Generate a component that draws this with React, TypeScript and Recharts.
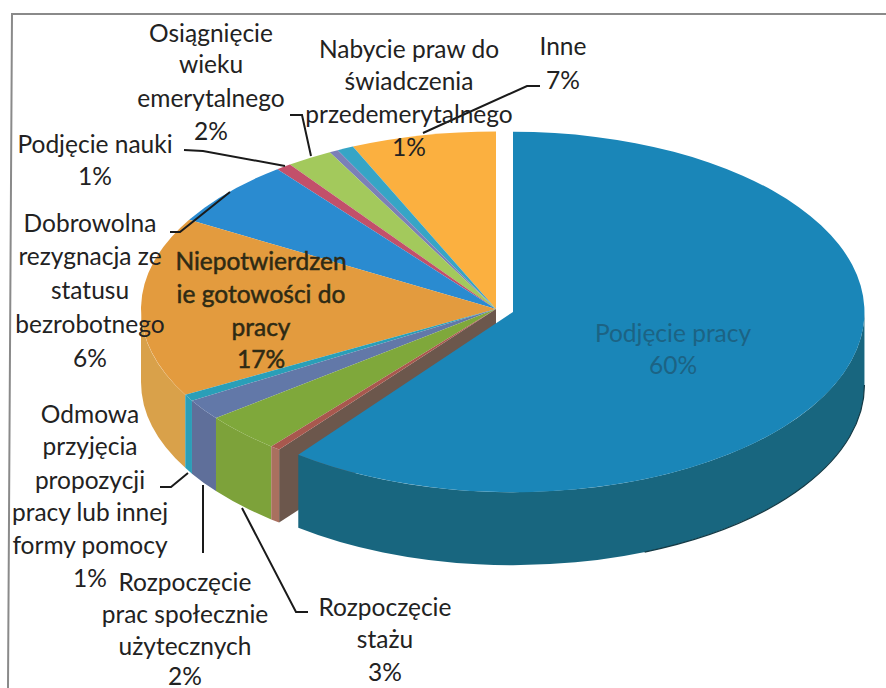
import React from "react";
import { PieChart, Pie } from "recharts";

// Listed counter-clockwise from 12 o'clock, so the pulled-out slice paints last.
const categories = [
  "Inne",
  "Nabycie praw do świadczenia przedemerytalnego",
  "(bez etykiety 1)",
  "Osiągnięcie wieku emerytalnego",
  "Podjęcie nauki",
  "Dobrowolna rezygnacja ze statusu bezrobotnego",
  "Niepotwierdzenie gotowości do pracy",
  "Odmowa przyjęcia propozycji pracy lub innej formy pomocy",
  "Rozpoczęcie prac społecznie użytecznych",
  "Rozpoczęcie stażu",
  "(bez etykiety 2)",
  "Podjęcie pracy",
];
const values = [6.6, 0.75, 0.4, 2.1, 0.7, 6.05, 16.4, 0.6, 1.9, 3.55, 0.45, 60.4];
const topColors = ["#fbb040", "#36a5c6", "#7b80b8", "#a3c95c", "#c2506a", "#2a8bd0", "#e39b3e", "#2a9fb8", "#6278a8", "#7fa83b", "#a8584e", "#1a86b8"];
const wallColors = ["#fbb040", "#36a5c6", "#7b80b8", "#a3c95c", "#c2506a", "#2a8bd0", "#d9a14a", "#2a9fb8", "#5f6f9a", "#7da23a", "#a9705f", "#18667f"];

const labelTexts: string[][] = [
  ["Inne", "7%"],
  ["Nabycie praw do", "świadczenia", "przedemerytalnego", "1%"],
  [],
  ["Osiągnięcie", "wieku", "emerytalnego", "2%"],
  ["Podjęcie nauki", "1%"],
  ["Dobrowolna", "rezygnacja ze", "statusu", "bezrobotnego", "6%"],
  ["Niepotwierdzen", "ie gotowości do", "pracy", "17%"],
  ["Odmowa", "przyjęcia", "propozycji", "pracy lub innej", "formy pomocy", "1%"],
  ["Rozpoczęcie", "prac społecznie", "użytecznych", "2%"],
  ["Rozpoczęcie", "stażu", "3%"],
  [],
  ["Podjęcie pracy", "60%"],
];

const table = categories.map((name, i) => ({ name, value: values[i], fill: topColors[i], wall: wallColors[i] }));

// Layout, in page pixels: [centre x, y of each text line]
const labelLayout: [number, number[]][] = [
  [563, [45, 79]],
  [409, [48, 80, 113, 146]],
  [0, []],
  [211, [32, 63, 97, 130]],
  [95, [143, 175]],
  [90, [222, 255, 289, 323, 357]],
  [261, [260, 293, 326, 358]],
  [90, [413, 445, 479, 511, 544, 577]],
  [185, [581, 613, 645, 675]],
  [385, [606, 638, 671]],
  [0, []],
  [673, [332, 364]],
];
const leaders: string[] = [
  "540,86 527,86 423,133",
  "",
  "",
  "290,115 302,115 311,156",
  "184,150 203,151 285,166",
  "170,232 180,232 230,192",
  "",
  "160,487 171,487 188,473",
  "203,485 203,553",
  "242,508 296,612 308,612",
  "",
  "",
];
const labelInk = ["#222", "#222", "#222", "#222", "#222", "#222", "#2e2a14", "#222", "#222", "#222", "#222", "#1c6384"];

const TILT = 0.5;
const DEPTH = 73;
const MAIN = 11;
const BOLD_LABEL = 6;
const RAD = Math.PI / 180;

function SliceShape(props: any) {
  const { cx, cy, outerRadius, startAngle, endAngle, fill, payload, wall, name } = props;
  const i = categories.indexOf(name ?? payload?.name);
  const isMain = i === MAIN;
  const ox = isMain ? cx + 17 : cx;
  const oy = isMain ? cy + 3 : cy;
  const rx = isMain ? outerRadius * 0.99 : outerRadius;
  const ry = isMain ? outerRadius * TILT * 1.015 : outerRadius * TILT;
  const sa = Math.min(startAngle, endAngle);
  const ea = Math.max(startAngle, endAngle);
  const pt = (a: number, d = 0) => `${ox + rx * Math.cos(a * RAD)},${oy - ry * Math.sin(a * RAD) + d}`;
  const large = ea - sa > 180 ? 1 : 0;
  const top = `M${ox},${oy} L${pt(sa)} A${rx},${ry} 0 ${large} 0 ${pt(ea)} Z`;
  const lo = Math.max(sa, 180);
  const hi = Math.min(ea, 360);
  const wallFill = wall ?? payload?.wall;
  const arcLarge = hi - lo > 180 ? 1 : 0;
  const outer =
    hi > lo
      ? `M${pt(lo)} A${rx},${ry} 0 ${arcLarge} 0 ${pt(hi)} L${pt(hi, DEPTH)} A${rx},${ry} 0 ${arcLarge} 1 ${pt(lo, DEPTH)} Z`
      : null;
  const radial = i === MAIN - 1 ? `M${ox},${oy} L${pt(ea)} L${pt(ea, DEPTH)} L${ox},${oy + DEPTH} Z` : null;
  return (
    <g>
      {radial && <path d={radial} fill="#6c574c" />}
      {outer && <path d={outer} fill={wallFill} />}
      {isMain && <path d={`M${pt(292, DEPTH)} A${rx},${ry} 0 0 0 ${pt(360, DEPTH)}`} fill="none" stroke="#143a45" strokeWidth={1.2} />}
      <path d={top} fill={fill} />
    </g>
  );
}

function SliceLabel(props: any) {
  const i: number = props.index;
  const lines = labelTexts[i];
  if (!lines || lines.length === 0) return null;
  const [x, ys] = labelLayout[i];
  return (
    <g>
      {leaders[i] && <polyline points={leaders[i]} fill="none" stroke="#1a1a1a" strokeWidth={2} />}
      {lines.map((line, k) => (
        <text
          key={k}
          x={x}
          y={ys[k]}
          textAnchor="middle"
          dominantBaseline="central"
          fontFamily="Lato, 'Open Sans', sans-serif"
          fontSize={24.5}
          fill={labelInk[i]}
          stroke={i === BOLD_LABEL ? labelInk[i] : "none"}
          strokeWidth={i === BOLD_LABEL ? 0.5 : 0}
        >
          {line}
        </text>
      ))}
    </g>
  );
}

export default function App() {
  return (
    <div style={{ position: "absolute", left: 0, top: 0, width: 886, height: 688, background: "#fff", overflow: "hidden" }}>
      <svg width={886} height={688} style={{ position: "absolute", left: 0, top: 0 }}>
        <polyline points="8,688 12,14 886,14" fill="none" stroke="#8a8a8a" strokeWidth={2} />
      </svg>
      <div style={{ position: "absolute", left: 0, top: 0 }}>
        <PieChart width={886} height={688} margin={{ top: 0, right: 0, bottom: 0, left: 0 }}>
          <Pie
            data={table}
            dataKey="value"
            nameKey="name"
            cx={496}
            cy={309}
            innerRadius={0}
            outerRadius={355}
            startAngle={90}
            endAngle={450}
            stroke="none"
            isAnimationActive={false}
            shape={SliceShape}
            label={SliceLabel}
            labelLine={false}
          />
        </PieChart>
      </div>
    </div>
  );
}
